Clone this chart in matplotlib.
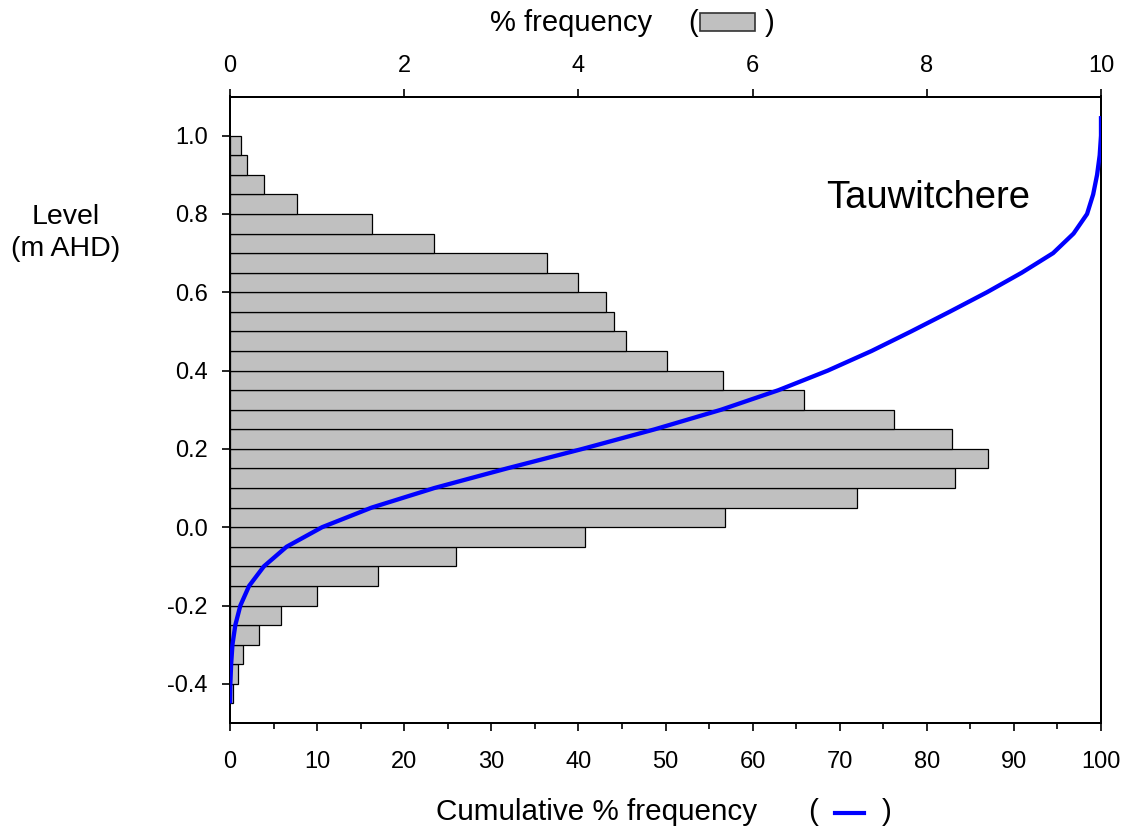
import matplotlib
matplotlib.use('Agg')
import matplotlib.pyplot as plt
from matplotlib.patches import Rectangle
from matplotlib.lines import Line2D
from matplotlib.ticker import MultipleLocator, NullLocator

plt.rcParams['font.family'] = ['Liberation Sans', 'DejaVu Sans']
plt.rcParams['axes.unicode_minus'] = False

# bottom edge of each 0.05 m level class (m AHD)
level_bottom = [-0.45, -0.40, -0.35, -0.30, -0.25, -0.20, -0.15, -0.10, -0.05,
                0.00, 0.05, 0.10, 0.15, 0.20, 0.25, 0.30, 0.35, 0.40, 0.45,
                0.50, 0.55, 0.60, 0.65, 0.70, 0.75, 0.80, 0.85, 0.90, 0.95]
# % frequency of each class
freq_pct = [0.04, 0.09, 0.15, 0.33, 0.58, 1.00, 1.70, 2.60, 4.08,
            5.68, 7.20, 8.32, 8.70, 8.29, 7.62, 6.59, 5.66, 5.02, 4.55,
            4.41, 4.32, 4.00, 3.64, 2.34, 1.63, 0.77, 0.39, 0.20, 0.13]

# cumulative curve
cum_level = [-0.45, -0.40, -0.35, -0.30, -0.25, -0.20, -0.15, -0.10, -0.05,
             0.00, 0.05, 0.10, 0.15, 0.20, 0.25, 0.30, 0.35, 0.40, 0.45,
             0.50, 0.55, 0.60, 0.65, 0.70, 0.75, 0.80, 0.85, 0.90, 0.95,
             1.00, 1.05]
cum_pct = [0.0, 0.04, 0.13, 0.28, 0.61, 1.19, 2.19, 3.89, 6.49,
           10.57, 16.25, 23.45, 31.77, 40.47, 48.76, 56.38, 62.97, 68.63, 73.65,
           78.2, 82.6, 86.9, 90.9, 94.5, 96.85, 98.4, 99.1, 99.55, 99.85,
           100.0, 100.0]

y_ticks = [-0.4, -0.2, 0.0, 0.2, 0.4, 0.6, 0.8, 1.0]
y_ticklabels = ['-0.4', '-0.2', '0.0', '0.2', '0.4', '0.6', '0.8', '1.0']

W, H = 1129, 831
fig = plt.figure(figsize=(W / 100, H / 100), dpi=100)
ax = fig.add_axes([230 / W, 1 - 723 / H, (1101 - 230) / W, (723 - 96.5) / H])

# histogram on the top (frequency) axis
ax.barh(level_bottom, freq_pct, height=0.05, align='edge',
        color='#c0c0c0', edgecolor='black', linewidth=0.9, zorder=2)
ax.set_xlim(0, 10)
ax.set_ylim(-0.5, 1.1)
ax.set_yticks(y_ticks)
ax.set_yticklabels(y_ticklabels)

# cumulative curve on the bottom axis
ax2 = ax.twiny()
ax2.plot(cum_pct, cum_level, color='#0000ff', linewidth=3.1, zorder=3,
         solid_capstyle='butt')
ax2.set_xlim(0, 100)
ax2.set_xticks(range(0, 101, 10))
ax2.xaxis.set_minor_locator(MultipleLocator(5))
ax2.xaxis.tick_bottom()
ax2.xaxis.set_label_position('bottom')

ax.set_xticks([0, 2, 4, 6, 8, 10])
ax.xaxis.set_minor_locator(NullLocator())
ax.xaxis.tick_top()

for a in (ax, ax2):
    for s in a.spines.values():
        s.set_linewidth(1.4)
ax.tick_params(axis='x', which='major', direction='out', length=6, width=1.2,
               labelsize=17, pad=8, top=True, bottom=False,
               labeltop=True, labelbottom=False)
ax.tick_params(axis='y', which='major', direction='out', length=6, width=1.2,
               labelsize=17, pad=10)
ax2.tick_params(axis='x', which='major', direction='out', length=6, width=1.2,
                labelsize=17, pad=14, top=False, bottom=True,
                labeltop=False, labelbottom=True)
ax2.tick_params(axis='x', which='minor', direction='out', length=4, width=1.2,
                top=False, bottom=True)

ax2.text(68.4, 0.84, 'Tauwitchere', fontsize=27.5, ha='left', va='center')

# left axis title
fig.text(66 / W, 1 - 233 / H, 'Level\n(m AHD)', fontsize=20.5, ha='center',
         va='center', linespacing=1.3)

# top axis title with bar key
fig.text(490 / W, 1 - 23 / H, '% frequency', fontsize=21, ha='left', va='center')
fig.text(688 / W, 1 - 23 / H, '(', fontsize=21, ha='left', va='center')
fig.text(765 / W, 1 - 23 / H, ')', fontsize=21, ha='left', va='center')
fig.patches.append(Rectangle((700 / W, 1 - 31 / H), 55 / W, 18 / H,
                             transform=fig.transFigure, facecolor='#c0c0c0',
                             edgecolor='#333333', linewidth=1.2))

# bottom axis title with line key
fig.text(436 / W, 1 - 812 / H, 'Cumulative % frequency', fontsize=21.3,
         ha='left', va='center')
fig.text(808 / W, 1 - 812 / H, '(', fontsize=21.3, ha='left', va='center')
fig.text(882 / W, 1 - 812 / H, ')', fontsize=21.3, ha='left', va='center')
fig.lines.append(Line2D([835 / W, 864 / W], [1 - 813 / H, 1 - 813 / H],
                        transform=fig.transFigure, color='#0000ff', linewidth=3))

fig.savefig('out.png', dpi=100)
